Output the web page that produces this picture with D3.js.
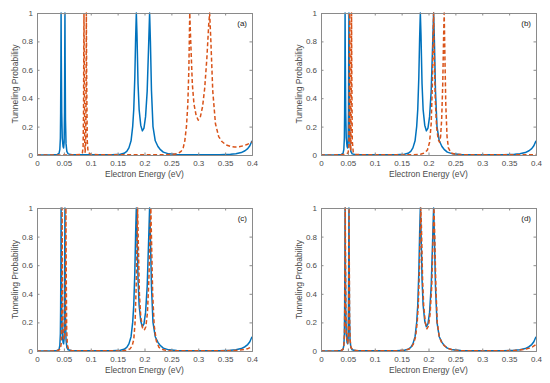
<!DOCTYPE html>
<html>
<head>
<meta charset="utf-8">
<script src="https://cdn.jsdelivr.net/npm/d3@7"></script>
<style>
  body { margin: 0; background: #fff; }
  text { font-family: "Liberation Sans", Arial, sans-serif; }
</style>
</head>
<body>
<svg id="fig" width="550" height="383"></svg>
<script>
// ticks
const xTicks = [0, 0.05, 0.1, 0.15, 0.2, 0.25, 0.3, 0.35, 0.4];
const yTicks = [0, 0.2, 0.4, 0.6, 0.8, 1];
const panelLabels = ["(a)", "(b)", "(c)", "(d)"];

// solid blue curve (same in every panel), [energy, probability]
const blueCurve = [
  [0, 0], [0.03, 0.001], [0.038, 0.004], [0.041, 0.012], [0.0425, 0.04], [0.0435, 0.12],
  [0.044, 0.3], [0.0445, 0.65], [0.0448, 1], [0.0452, 0.7], [0.046, 0.3], [0.047, 0.12],
  [0.0485, 0.06], [0.0495, 0.05], [0.0505, 0.09], [0.0512, 0.3], [0.0516, 0.7], [0.052, 1],
  [0.0524, 0.65], [0.053, 0.25], [0.054, 0.08], [0.0555, 0.025], [0.058, 0.008], [0.065, 0.002],
  [0.1, 0.001], [0.14, 0.002], [0.155, 0.005], [0.162, 0.012], [0.167, 0.025], [0.171, 0.05],
  [0.175, 0.1], [0.178, 0.2], [0.18, 0.32], [0.182, 0.55], [0.1835, 0.82], [0.1848, 1],
  [0.186, 0.85], [0.188, 0.5], [0.19, 0.32], [0.193, 0.21], [0.196, 0.17], [0.199, 0.19],
  [0.202, 0.27], [0.205, 0.45], [0.2075, 0.75], [0.2095, 1], [0.211, 0.8], [0.213, 0.45],
  [0.2158, 0.2], [0.22, 0.1], [0.225, 0.06], [0.229, 0.04], [0.235, 0.02], [0.245, 0.008],
  [0.26, 0.003], [0.3, 0.001], [0.34, 0.002], [0.36, 0.005], [0.37, 0.009], [0.38, 0.017],
  [0.387, 0.03], [0.392, 0.045], [0.396, 0.065], [0.4, 0.1]
];

// dashed orange curves, one per panel
const orangeA = [
  [0, 0], [0.07, 0.001], [0.082, 0.004], [0.0845, 0.015], [0.0858, 0.06], [0.0866, 0.3],
  [0.087, 0.7], [0.0874, 1], [0.0882, 0.45], [0.0888, 0.1], [0.0895, 0.02], [0.0905, 0.08],
  [0.0912, 0.4], [0.0918, 1], [0.0925, 0.5], [0.0935, 0.1], [0.095, 0.02], [0.1, 0.004],
  [0.12, 0.001], [0.2, 0.001], [0.24, 0.002], [0.255, 0.005], [0.263, 0.012], [0.268, 0.025],
  [0.272, 0.05], [0.275, 0.1], [0.278, 0.2], [0.2805, 0.35], [0.2825, 0.6], [0.2842, 1],
  [0.286, 0.8], [0.289, 0.5], [0.292, 0.36], [0.296, 0.28], [0.3, 0.245], [0.304, 0.27],
  [0.308, 0.34], [0.312, 0.47], [0.316, 0.68], [0.3195, 0.92], [0.3212, 1], [0.3235, 0.8],
  [0.327, 0.45], [0.332, 0.22], [0.338, 0.13], [0.344, 0.095], [0.352, 0.07], [0.36, 0.06],
  [0.368, 0.056], [0.376, 0.058], [0.384, 0.065], [0.392, 0.076], [0.4, 0.092]
];
const orangeB = [
  [0, 0], [0.035, 0.001], [0.045, 0.004], [0.0505, 0.015], [0.0518, 0.06], [0.0526, 0.3],
  [0.053, 0.7], [0.0534, 1], [0.054, 0.5], [0.0548, 0.1], [0.0553, 0.03], [0.0558, 0.1],
  [0.0564, 0.5], [0.0568, 1], [0.0574, 0.5], [0.0582, 0.1], [0.06, 0.02], [0.065, 0.004],
  [0.08, 0.001], [0.17, 0.001], [0.185, 0.005], [0.193, 0.015], [0.198, 0.035], [0.202, 0.09],
  [0.205, 0.22], [0.2072, 0.5], [0.2085, 0.8], [0.2095, 1], [0.2105, 0.75], [0.2125, 0.4],
  [0.215, 0.2], [0.218, 0.11], [0.2205, 0.09], [0.2225, 0.13], [0.2245, 0.25], [0.2265, 0.5],
  [0.2282, 0.85], [0.2292, 1], [0.2305, 0.7], [0.2322, 0.35], [0.2345, 0.13], [0.237, 0.05],
  [0.242, 0.015], [0.25, 0.005], [0.27, 0.001], [0.38, 0.001], [0.4, 0.003]
];
const orangeC = [
  [0, 0], [0.03, 0.001], [0.04, 0.004], [0.0435, 0.015], [0.045, 0.05], [0.0458, 0.2],
  [0.0463, 0.55], [0.0467, 1], [0.0472, 0.55], [0.0482, 0.18], [0.0495, 0.09], [0.051, 0.08],
  [0.0525, 0.2], [0.0533, 0.6], [0.0538, 1], [0.0543, 0.6], [0.0552, 0.15], [0.0565, 0.04],
  [0.059, 0.008], [0.065, 0.002], [0.1, 0.001], [0.16, 0.002], [0.168, 0.006], [0.173, 0.015],
  [0.177, 0.035], [0.18, 0.08], [0.1825, 0.2], [0.1845, 0.45], [0.186, 0.75], [0.1872, 1],
  [0.1885, 0.75], [0.1905, 0.4], [0.193, 0.24], [0.1965, 0.16], [0.1995, 0.145], [0.2025, 0.17],
  [0.2055, 0.27], [0.2082, 0.5], [0.2102, 0.8], [0.2118, 1], [0.2132, 0.75], [0.2152, 0.4],
  [0.218, 0.18], [0.222, 0.07], [0.227, 0.025], [0.235, 0.008], [0.25, 0.002], [0.3, 0.001],
  [0.35, 0.002], [0.37, 0.004], [0.385, 0.01], [0.393, 0.018], [0.4, 0.03]
];
const orangeD = [
  [0, 0], [0.03, 0.001], [0.038, 0.004], [0.041, 0.012], [0.0425, 0.04], [0.0437, 0.12],
  [0.0442, 0.3], [0.0447, 0.65], [0.0451, 1], [0.0456, 0.7], [0.0463, 0.3], [0.0473, 0.12],
  [0.0488, 0.065], [0.0498, 0.055], [0.0507, 0.09], [0.0514, 0.3], [0.0518, 0.7], [0.0522, 1],
  [0.0526, 0.65], [0.0532, 0.25], [0.0542, 0.08], [0.0557, 0.025], [0.06, 0.006], [0.07, 0.002],
  [0.1, 0.001], [0.14, 0.002], [0.156, 0.005], [0.163, 0.012], [0.168, 0.025], [0.172, 0.05],
  [0.176, 0.1], [0.179, 0.2], [0.181, 0.32], [0.183, 0.55], [0.1845, 0.82], [0.1858, 1],
  [0.187, 0.85], [0.189, 0.5], [0.191, 0.32], [0.194, 0.2], [0.197, 0.155], [0.2, 0.175],
  [0.203, 0.26], [0.206, 0.45], [0.2082, 0.75], [0.2102, 1], [0.2117, 0.8], [0.2137, 0.45],
  [0.2163, 0.2], [0.22, 0.1], [0.225, 0.055], [0.23, 0.035], [0.236, 0.018], [0.245, 0.007],
  [0.26, 0.002], [0.3, 0.001], [0.34, 0.002], [0.36, 0.004], [0.37, 0.007], [0.38, 0.012],
  [0.388, 0.02], [0.394, 0.03], [0.4, 0.045]
];
const orangeCurves = [orangeA, orangeB, orangeC, orangeD];

const panels = [
  {x: 37, y: 13, h: 142},
  {x: 321, y: 13, h: 142},
  {x: 37, y: 208, h: 143},
  {x: 321, y: 208, h: 143}
];
const W = 215;

const svg = d3.select("#fig");
const axisColor = "#8a8a8a";
const textColor = "#4a4a4a";

panels.forEach((p, i) => {
  const g = svg.append("g").attr("transform", `translate(${p.x},${p.y})`);
  const x = d3.scaleLinear().domain([0, 0.4]).range([0, W]);
  const y = d3.scaleLinear().domain([0, 1]).range([p.h, 0]);

  g.append("clipPath").attr("id", "clip" + i)
    .append("rect").attr("y", -1).attr("width", W).attr("height", p.h + 1);

  // lines
  const line = d3.line().x(d => x(d[0])).y(d => y(d[1]));
  const plot = g.append("g").attr("clip-path", `url(#clip${i})`);
  plot.append("path")
    .datum(blueCurve)
    .attr("fill", "none")
    .attr("stroke", "#0072BD")
    .attr("stroke-width", 1.5)
    .attr("stroke-linejoin", "round")
    .attr("d", line);
  plot.append("path")
    .datum(orangeCurves[i])
    .attr("fill", "none")
    .attr("stroke", "#D95319")
    .attr("stroke-width", 1.5)
    .attr("stroke-dasharray", "4,2.5")
    .attr("stroke-linejoin", "round")
    .attr("d", line);

  // axes (box with inward ticks on all sides)
  g.append("g").attr("transform", `translate(0,${p.h})`)
    .call(d3.axisBottom(x).tickValues(xTicks).tickSize(-2.5).tickPadding(5)
      .tickFormat(d => d === 0 ? "0" : String(+d.toFixed(2))));
  g.append("g")
    .call(d3.axisLeft(y).tickValues(yTicks).tickSize(-2.5).tickPadding(4)
      .tickFormat(d => d === 0 ? "0" : d === 1 ? "1" : d.toFixed(1)));
  g.append("g").call(d3.axisTop(x).tickValues(xTicks).tickSize(-2.5).tickFormat(""));
  g.append("g").attr("transform", `translate(${W},0)`)
    .call(d3.axisRight(y).tickValues(yTicks).tickSize(-2.5).tickFormat(""));

  g.selectAll(".domain").attr("stroke", axisColor);
  g.selectAll(".tick line").attr("stroke", axisColor);
  g.selectAll(".tick text").attr("fill", textColor).style("font-size", "8px");

  // labels
  g.append("text")
    .attr("x", W / 2).attr("y", p.h + 22)
    .attr("text-anchor", "middle")
    .attr("fill", textColor)
    .style("font-size", "8.5px")
    .text("Electron Energy (eV)");
  g.append("text")
    .attr("transform", `translate(-19,${p.h / 2}) rotate(-90)`)
    .attr("text-anchor", "middle")
    .attr("fill", textColor)
    .style("font-size", "8.5px")
    .text("Tunneling Probability");
  g.append("text")
    .attr("x", W - 5).attr("y", 13)
    .attr("text-anchor", "end")
    .attr("fill", "#222")
    .style("font-size", "8px")
    .text(panelLabels[i]);
});
</script>
</body>
</html>
